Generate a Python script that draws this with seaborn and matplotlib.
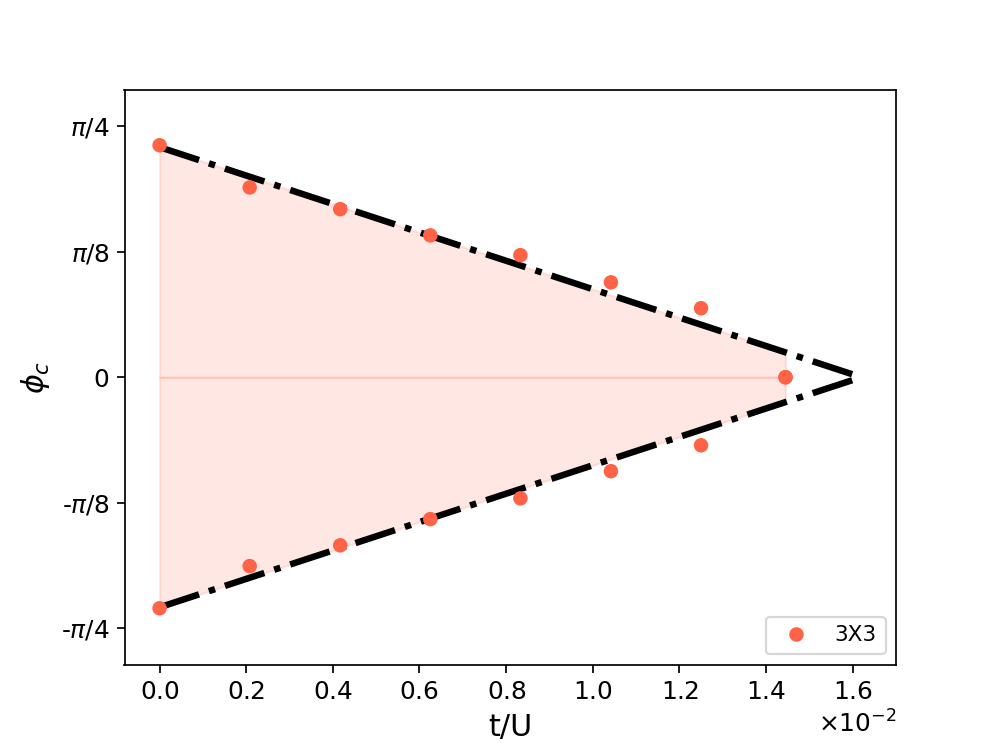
import numpy as np
import pandas as pd
import matplotlib
matplotlib.use('Agg')
from matplotlib import pyplot as plt
import seaborn as sns

# data (t/U in units of 1e-2)
t_pts = np.array([0.0, 0.208, 0.417, 0.625, 0.833, 1.042, 1.25, 1.445]) * 1e-2
phi_upper = [0.726, 0.594, 0.526, 0.444, 0.382, 0.297, 0.216, 0.0]
phi_lower = [-0.723, -0.591, -0.526, -0.444, -0.379, -0.294, -0.213, 0.0]

# boundary lines
t_line = np.array([0.0, 1.62]) * 1e-2
line_upper = [0.72, 0.0]
line_lower = [-0.72, 0.0]

ytick_vals = [-np.pi / 4, -np.pi / 8, 0, np.pi / 8, np.pi / 4]
ytick_labels = [r'-$\pi/4$', r'-$\pi/8$', '0', r'$\pi/8$', r'$\pi/4$']

df = pd.DataFrame({'t': np.concatenate([t_pts, t_pts]),
                   'phi': np.concatenate([phi_upper, phi_lower]),
                   'size': '3X3'})

fig, ax = plt.subplots(figsize=(6.4, 4.8), dpi=155.625)

# shaded region between the two lines
up_fill = np.interp(t_pts, t_line, line_upper)
lo_fill = np.interp(t_pts, t_line, line_lower)
ax.fill_between(t_pts, 0, up_fill, color='tomato', alpha=0.15)
ax.fill_between(t_pts, lo_fill, 0, color='tomato', alpha=0.15)

ax.plot(t_line, line_upper, 'k-.', lw=3)
ax.plot(t_line, line_lower, 'k-.', lw=3)

sns.scatterplot(data=df, x='t', y='phi', hue='size', palette=['tomato'],
                s=45, linewidth=0, ax=ax, zorder=3)

ax.set_yticks(ytick_vals)
ax.set_yticklabels(ytick_labels)
ax.set_ylim(-0.9, 0.9)
ax.ticklabel_format(style='sci', axis='x', scilimits=(0, 0), useMathText=True)
ax.tick_params(labelsize=11.5)
ax.xaxis.get_offset_text().set_fontsize(11.5)

ax.set_xlabel('t/U', fontsize=14)
ax.set_ylabel(r'$\phi_c$', fontsize=14)
ax.legend(loc='lower right', fontsize=10)

plt.savefig('out.png')
